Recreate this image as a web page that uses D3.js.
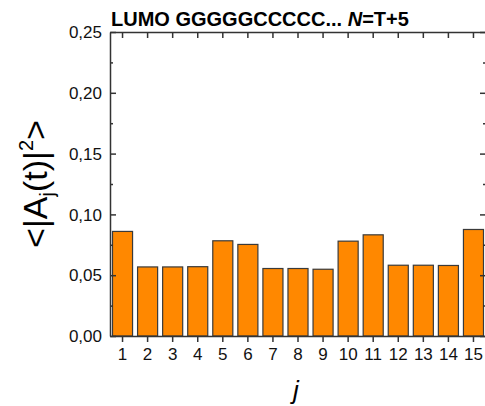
<!DOCTYPE html>
<html>
<head>
<meta charset="utf-8">
<script src="https://cdn.jsdelivr.net/npm/d3@7"></script>
<style>
  body { margin: 0; background: #fff; }
  text { font-family: "Liberation Sans", Arial, sans-serif; }
  .frame path, .frame line { stroke: #333; stroke-width: 1.5; }
</style>
</head>
<body>
<div id="chart"></div>
<script>
// data
var sites = [1, 2, 3, 4, 5, 6, 7, 8, 9, 10, 11, 12, 13, 14, 15];
var probs = [0.086, 0.0568, 0.0568, 0.0570, 0.0783, 0.0753, 0.0555, 0.0555, 0.0549,
             0.0780, 0.0832, 0.0582, 0.0582, 0.0580, 0.0876];
var yTicks = [0, 0.05, 0.10, 0.15, 0.20, 0.25];
var yMinor = [0.025, 0.075, 0.125, 0.175, 0.225];

var width = 485, height = 406;
var plotLeft = 110, plotRight = 486, plotTop = 32, plotBottom = 336;

var svg = d3.select("#chart").append("svg")
    .attr("width", width)
    .attr("height", height);

var x = d3.scaleBand()
    .domain(sites)
    .range([plotLeft, plotRight])
    .paddingInner(0.2)
    .paddingOuter(0.1);

var y = d3.scaleLinear()
    .domain([0, 0.25])
    .range([plotBottom, plotTop]);

// decimal comma
var fmt = d3.formatLocale({ decimal: ",", thousands: ".", grouping: [3], currency: ["", ""] }).format(".2f");

// bars
svg.append("g").selectAll("rect")
    .data(probs)
    .enter()
    .append("rect")
    .attr("x", function(d, i) { return x(sites[i]); })
    .attr("y", function(d) { return y(d); })
    .attr("width", x.bandwidth())
    .attr("height", function(d) { return y(0) - y(d); })
    .attr("fill", "#ff8800")
    .attr("stroke", "#3a3a3a")
    .attr("stroke-width", 1.2);

// left axis, ticks inside
var gl = svg.append("g").attr("class", "frame")
    .attr("transform", "translate(" + plotLeft + ",0)")
    .call(d3.axisRight(y).tickValues(yTicks).tickSize(6).tickSizeOuter(0).tickFormat(""));
gl.append("g").call(d3.axisRight(y).tickValues(yMinor).tickSize(3).tickFormat(""))
    .select(".domain").remove();
gl.selectAll(".tick line").attr("stroke", "#333").attr("stroke-width", 1.5);

// y tick labels
svg.append("g").selectAll("text")
    .data(yTicks)
    .enter()
    .append("text")
    .attr("x", plotLeft - 8)
    .attr("y", function(d) { return y(d); })
    .attr("dy", "0.36em")
    .attr("text-anchor", "end")
    .attr("font-size", 17)
    .attr("fill", "#111")
    .text(fmt);

// right axis, ticks inside
var gr = svg.append("g").attr("class", "frame")
    .attr("transform", "translate(" + plotRight + ",0)")
    .call(d3.axisLeft(y).tickValues(yTicks).tickSize(6).tickSizeOuter(0).tickFormat(""));
gr.append("g").call(d3.axisLeft(y).tickValues(yMinor).tickSize(3).tickFormat(""))
    .select(".domain").remove();
gr.selectAll(".tick line").attr("stroke", "#333").attr("stroke-width", 1.5);

// top axis, ticks inside
svg.append("g").attr("class", "frame")
    .attr("transform", "translate(0," + plotTop + ")")
    .call(d3.axisBottom(x).tickSize(6).tickSizeOuter(0).tickFormat(""));

// bottom axis, ticks outside
var gb = svg.append("g").attr("class", "frame")
    .attr("transform", "translate(0," + plotBottom + ")")
    .call(d3.axisBottom(x).tickSize(6).tickSizeOuter(0).tickPadding(6));
gb.selectAll(".tick text")
    .attr("font-size", 17)
    .attr("font-family", "'Liberation Sans', Arial, sans-serif")
    .attr("fill", "#111");

// title
var title = svg.append("text")
    .attr("x", plotLeft + 1)
    .attr("y", 26)
    .attr("font-size", 20)
    .attr("font-weight", "bold")
    .attr("fill", "#000");
title.append("tspan").text("LUMO GGGGGCCCCC... ");
title.append("tspan").attr("font-style", "italic").text("N");
title.append("tspan").text("=T+5");

// x label
svg.append("text")
    .attr("x", 296)
    .attr("y", 399)
    .attr("text-anchor", "middle")
    .attr("font-size", 26)
    .attr("font-style", "italic")
    .text("j");

// y label
var yl = svg.append("text")
    .attr("transform", "translate(47," + ((plotTop + plotBottom) / 2) + ") rotate(-90)")
    .attr("text-anchor", "middle")
    .attr("font-size", 34);
yl.append("tspan").text("<|A");
yl.append("tspan").attr("font-size", 20).attr("dy", 7).text("j");
yl.append("tspan").attr("dy", -7).text("(t)|");
yl.append("tspan").attr("font-size", 20).attr("dy", -14).text("2");
yl.append("tspan").attr("dy", 14).text(">");
</script>
</body>
</html>
